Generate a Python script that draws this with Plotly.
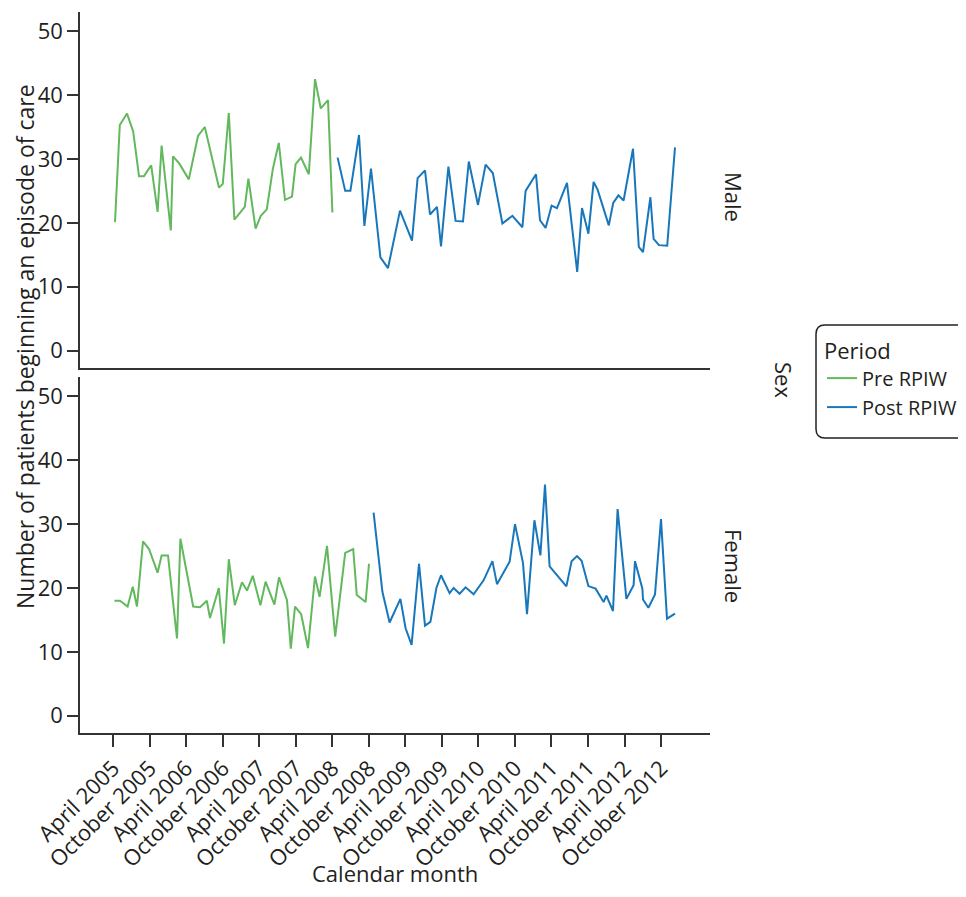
import pandas as pd
import plotly.graph_objects as go
from plotly.subplots import make_subplots

# ---- Data ----
# x positions as days since 1 April 2005
male_pre_days = [9, 33, 69, 100, 129, 154, 190, 222, 242, 288, 299, 330, 378, 424, 458, 529, 548, 578,
                 606, 658, 676, 712, 738, 768, 798, 828, 859, 894, 912, 939, 978, 1009, 1038, 1074, 1096]
male_pre_vals = [20.1, 35.3, 37.1, 34.3, 27.3, 27.3, 29.0, 21.7, 32.1, 18.8, 30.4, 29.3, 26.8, 33.6, 35.0,
                 25.5, 26.1, 37.2, 20.5, 22.5, 26.9, 19.1, 21.1, 22.1, 28.4, 32.5, 23.6, 24.1, 29.2, 30.2,
                 27.6, 42.5, 37.9, 39.2, 21.6]

male_post_days = [1122, 1160, 1186, 1229, 1256, 1289, 1336, 1374, 1434, 1494, 1522, 1559, 1584, 1619, 1639,
                  1676, 1712, 1749, 1778, 1824, 1862, 1898, 1946, 1996, 2046, 2062, 2114, 2134, 2162, 2192,
                  2219, 2269, 2320, 2344, 2376, 2402, 2422, 2478, 2500, 2526, 2552, 2599, 2628, 2649, 2686,
                  2702, 2729, 2770, 2809]
male_post_vals = [30.2, 25.0, 25.0, 33.75, 19.5, 28.5, 14.6, 12.9, 21.9, 17.2, 27.0, 28.2, 21.3, 22.5, 16.3,
                  28.8, 20.3, 20.2, 29.6, 22.8, 29.1, 27.8, 19.9, 21.1, 19.3, 25.0, 27.6, 20.4, 19.2, 22.7,
                  22.3, 26.25, 12.3, 22.3, 18.3, 26.4, 25.2, 19.6, 23.1, 24.3, 23.5, 31.6, 16.25, 15.4, 24.0,
                  17.5, 16.5, 16.4, 31.8]

female_pre_days = [6, 34, 72, 98, 119, 149, 179, 222, 242, 274, 319, 336, 400, 434, 468, 484, 528, 554, 578,
                   608, 644, 669, 698, 736, 762, 806, 829, 869, 888, 909, 940, 974, 1009, 1032, 1069, 1110,
                   1160, 1200, 1218, 1262, 1279]
female_pre_vals = [18.0, 18.0, 17.1, 20.2, 17.1, 27.3, 26.1, 22.4, 25.1, 25.1, 12.1, 27.7, 17.1, 17.0, 18.0,
                   15.3, 20.0, 11.3, 24.5, 17.3, 20.9, 19.6, 21.9, 17.3, 21.0, 17.4, 21.65, 18.1, 10.5, 17.1,
                   15.9, 10.6, 21.8, 18.6, 26.6, 12.4, 25.5, 26.1, 18.9, 17.8, 23.8]

female_post_days = [1302, 1346, 1382, 1436, 1462, 1492, 1529, 1559, 1586, 1616, 1639, 1682, 1702, 1732, 1762,
                    1802, 1852, 1896, 1919, 1982, 2009, 2049, 2069, 2106, 2136, 2159, 2182, 2266, 2292, 2319,
                    2342, 2376, 2412, 2452, 2466, 2499, 2522, 2566, 2602, 2609, 2646, 2649, 2676, 2709, 2739,
                    2769, 2809]
female_post_vals = [31.8, 19.4, 14.6, 18.3, 13.7, 11.1, 23.8, 14.1, 14.7, 20.0, 22.0, 19.2, 20.0, 19.1, 20.1,
                    19.0, 21.2, 24.2, 20.6, 24.1, 30.0, 23.9, 15.9, 30.6, 25.1, 36.2, 23.4, 20.25, 24.2, 25.0,
                    24.25, 20.3, 19.9, 17.8, 18.8, 16.4, 32.35, 18.3, 20.45, 24.2, 19.9, 18.2, 16.9, 19.0, 30.8,
                    15.2, 16.0]

tick_dates = ["2005-04-01", "2005-10-01", "2006-04-01", "2006-10-01", "2007-04-01", "2007-10-01",
              "2008-04-01", "2008-10-01", "2009-04-01", "2009-10-01", "2010-04-01", "2010-10-01",
              "2011-04-01", "2011-10-01", "2012-04-01", "2012-10-01"]
tick_labels = ["April 2005", "October 2005", "April 2006", "October 2006", "April 2007", "October 2007",
               "April 2008", "October 2008", "April 2009", "October 2009", "April 2010", "October 2010",
               "April 2011", "October 2011", "April 2012", "October 2012"]

origin = pd.Timestamp("2005-04-01")


def to_dates(days):
    return [origin + pd.Timedelta(days=d) for d in days]


GREEN = "#62b85c"
BLUE = "#1877bb"
FONT = "Open Sans"
TXT = "#231f20"
AX = "#333333"
FS = 22

fig = make_subplots(rows=2, cols=1, shared_xaxes=True, vertical_spacing=0.0130)

fig.add_trace(go.Scatter(x=to_dates(male_pre_days), y=male_pre_vals, mode="lines", name="Pre RPIW",
                         legendgroup="pre", line=dict(color=GREEN, width=2)), row=1, col=1)
fig.add_trace(go.Scatter(x=to_dates(male_post_days), y=male_post_vals, mode="lines", name="Post RPIW",
                         legendgroup="post", line=dict(color=BLUE, width=2)), row=1, col=1)
fig.add_trace(go.Scatter(x=to_dates(female_pre_days), y=female_pre_vals, mode="lines", name="Pre RPIW",
                         legendgroup="pre", showlegend=False, line=dict(color=GREEN, width=2)), row=2, col=1)
fig.add_trace(go.Scatter(x=to_dates(female_post_days), y=female_post_vals, mode="lines", name="Post RPIW",
                         legendgroup="post", showlegend=False, line=dict(color=BLUE, width=2)), row=2, col=1)

xrange = ["2004-10-17", "2013-06-02"]
yrange = [-2.7, 53]

common_y = dict(range=yrange, tickvals=[0, 10, 20, 30, 40, 50], showgrid=False, zeroline=False,
                showline=True, linecolor=AX, linewidth=1.5, ticks="outside", ticklen=11,
                tickcolor=AX, tickwidth=1.5, tickfont=dict(size=FS, color=TXT, family=FONT),
                automargin=False)

fig.update_yaxes(**common_y, row=1, col=1)
fig.update_yaxes(**common_y, row=2, col=1)

fig.update_xaxes(type="date", range=xrange, showgrid=False, zeroline=False, showline=True,
                 linecolor=AX, linewidth=1.5, ticks="", showticklabels=False, automargin=False,
                 row=1, col=1)
fig.update_xaxes(type="date", range=xrange, showgrid=False, zeroline=False, showline=True,
                 linecolor=AX, linewidth=1.5, ticks="outside", ticklen=12, tickcolor=AX, tickwidth=1.5,
                 tickvals=tick_dates, ticktext=tick_labels, tickangle=-45, automargin=False,
                 tickfont=dict(size=FS, color=TXT, family=FONT), row=2, col=1)

# page body adds an 8px offset; figure sized to fit inside the window
OFF = 8
W, H = 950, 881
L, T = 80 - OFF, 12 - OFF
RIGHT, BOTTOM = 710 - OFF, 733 - OFF
R, B = W - RIGHT, H - BOTTOM
pw, ph = RIGHT - L, BOTTOM - T


def sx(xs):
    return (xs - OFF - L) / pw


def sy(ys):
    return (BOTTOM - (ys - OFF)) / ph


def ann(text, x, y, angle=0, size=FS):
    return dict(text=text, x=sx(x), y=sy(y), xref="paper", yref="paper", textangle=angle,
                xanchor="center", yanchor="middle", showarrow=False,
                font=dict(size=size, color=TXT, family=FONT))


annotations = [
    ann("Number of patients beginning an episode of care", 25, 347, -90, 23),
    ann("Calendar month", 395, 873),
    ann("Male", 734, 197, 90),
    ann("Female", 734, 566, 90),
    ann("Sex", 784, 380, 90),
]

# rounded legend frame
x0, x1, y0, y1, r = 816, 990, 325, 438, 9
path = (f"M {sx(x0 + r)} {sy(y0)} L {sx(x1)} {sy(y0)} L {sx(x1)} {sy(y1)} L {sx(x0 + r)} {sy(y1)} "
        f"Q {sx(x0)} {sy(y1)} {sx(x0)} {sy(y1 - r)} L {sx(x0)} {sy(y0 + r)} "
        f"Q {sx(x0)} {sy(y0)} {sx(x0 + r)} {sy(y0)} Z")

fig.update_layout(
    template="none",
    width=W, height=H,
    margin=dict(l=L, r=R, t=T, b=B, autoexpand=False),
    paper_bgcolor="white", plot_bgcolor="white",
    font=dict(family=FONT, color=TXT, size=FS),
    annotations=annotations,
    shapes=[dict(type="path", path=path, xref="paper", yref="paper",
                 line=dict(color="#222222", width=1.5), fillcolor="rgba(0,0,0,0)")],
    legend=dict(title=dict(text="Period", font=dict(size=FS, family=FONT, color=TXT)),
                xref="container", yref="container",
                x=(822 - OFF) / W, y=1 - (330 - OFF) / H, xanchor="left", yanchor="top",
                font=dict(size=20, family=FONT, color=TXT), bgcolor="rgba(0,0,0,0)",
                itemwidth=30, tracegroupgap=0),
    showlegend=True,
)

fig.write_html("out.html")
